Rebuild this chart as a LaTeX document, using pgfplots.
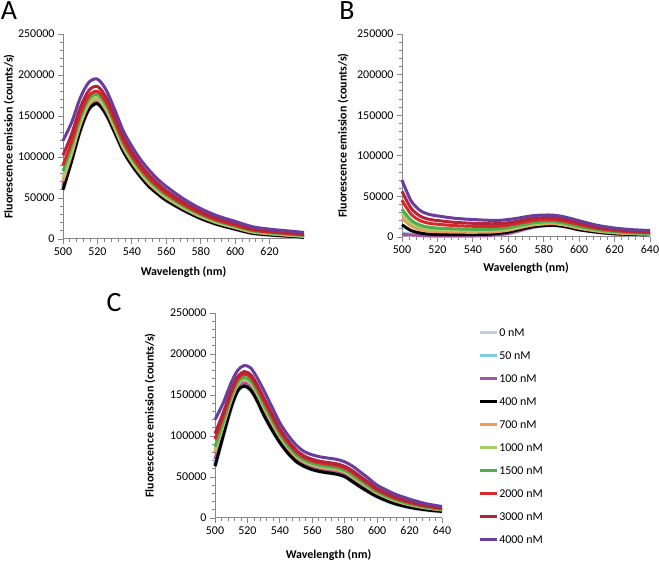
\documentclass[border=0pt]{standalone}
\usepackage{pgfplots}
\usepackage{pgfplotstable}
\usepackage{fontspec}
\setmainfont{Carlito}
\pgfplotsset{compat=1.18}

\definecolor{c0}{HTML}{C5CCE8}
\definecolor{c50}{HTML}{7FCCDD}
\definecolor{c100}{HTML}{A6539E}
\definecolor{c400}{HTML}{000000}
\definecolor{c700}{HTML}{F0995A}
\definecolor{c1000}{HTML}{A8CC68}
\definecolor{c1500}{HTML}{4FAE4F}
\definecolor{c2000}{HTML}{D42A2A}
\definecolor{c3000}{HTML}{B3233A}
\definecolor{c4000}{HTML}{6A3D9A}
\definecolor{axgray}{HTML}{878787}

\pgfplotstableread{
x c0 c50 c100 c400 c700 c1000 c1500 c2000 c3000 c4000
500 61800 63000 64800 60000 70800 75000 82800 90000 102000 120000
505 96400 97400 98800 95000 103500 106800 112900 118500 127900 142000
510 133200 134000 135200 132000 139200 142000 147200 152000 160000 172000
515 159000 159700 160600 158000 163900 166300 170500 174500 181100 191000
520 165900 166500 167400 165000 170400 172500 176400 180000 186000 195000
525 152900 153500 154400 152000 157400 159500 163400 167000 173000 182000
530 130800 131400 132200 130000 135000 137000 140600 144000 149600 158000
535 107800 108300 109000 107000 111500 113300 116500 119500 124500 132000
540 90700 91200 91800 90000 94100 95800 98700 101500 106100 113000
545 76600 77100 77700 76000 79800 81300 84000 86500 90700 97000
550 64600 65000 65600 64000 67600 69000 71600 74000 78000 84000
555 55500 55900 56400 55000 58200 59500 61800 64000 67600 73000
560 47500 47900 48400 47000 50100 51300 53500 55500 58900 64000
570 35400 35700 36100 35000 37500 38500 40300 42000 44800 49000
580 25400 25600 26000 25000 27200 28000 29600 31000 33400 37000
590 17800 18000 18300 17500 19400 20100 21500 22800 24900 28000
600 12300 12500 12800 12000 13700 14400 15600 16800 18700 21500
610 7200 7400 7600 7000 8400 9000 10000 11000 12600 15000
620 5200 5400 5600 5000 6300 6800 7700 8500 9900 12000
630 3700 3800 4000 3500 4700 5100 6000 6800 8100 10000
640 2200 2300 2500 2000 3100 3500 4300 5000 6200 8000
}\dataA

\pgfplotstableread{
x c0 c50 c100 c400 c700 c1000 c1500 c2000 c3000 c4000
500 3800 4100 3500 15000 23300 28800 34300 45300 56300 70000
505 2800 3100 2500 8000 13600 17300 21000 28400 35800 45000
510 2300 2600 2000 5000 9200 12000 14800 20400 26000 33000
515 1800 2100 1500 3500 7200 9600 12100 17000 21900 28000
520 1800 2100 1500 3000 6500 8800 11000 15700 20300 26000
530 1800 2100 1500 3000 6000 8000 10000 14000 18000 23000
540 1800 2100 1500 3000 5800 7600 9500 13200 16900 21500
550 2300 2600 2000 3500 6100 7800 9500 12900 16300 20500
555 3300 3600 3000 4500 6900 8500 10100 13300 16500 20500
560 4800 5100 4500 6000 8300 9900 11400 14500 17600 21500
565 7300 7600 7000 8500 10700 12100 13600 16500 19400 23000
570 10300 10600 10000 11000 13100 14500 15900 18700 21500 25000
575 12800 13100 12500 13000 15000 16400 17700 20400 23100 26500
580 14300 14600 14000 14000 16000 17300 18600 21200 23800 27000
585 14800 15100 14500 14500 16400 17600 18900 21400 23900 27000
590 13800 14100 13500 13500 15300 16500 17700 20100 22500 25500
595 11800 12100 11500 11500 13200 14400 15500 17800 20100 23000
600 9300 9600 9000 9000 10700 11800 12900 15100 17300 20000
610 6300 6600 6000 6000 7300 8100 9000 10700 12400 14500
620 4300 4600 4000 4000 5100 5800 6500 7900 9300 11000
630 3300 3600 3000 3000 3900 4500 5100 6300 7500 9000
640 2800 3100 2500 2500 3300 3900 4400 5500 6600 8000
}\dataB

\pgfplotstableread{
x c0 c50 c100 c400 c700 c1000 c1500 c2000 c3000 c4000
500 64100 65300 71600 63000 80100 83000 86900 96100 102900 120000
505 100800 101600 106000 100000 112000 114000 116800 123200 128000 140000
510 135600 136200 139500 135000 144000 145500 147600 152400 156000 165000
514 155500 156000 158800 155000 162500 163800 165500 169500 172500 180000
518 161500 162000 164800 161000 168500 169800 171500 175500 178500 186000
522 156500 157100 160100 156000 164100 165500 167300 171700 174900 183000
526 143600 144100 147200 143000 151400 152800 154800 159200 162600 171000
530 126600 127200 130500 126000 135000 136500 138600 143400 147000 156000
535 108600 109100 112200 108000 116400 117800 119800 124200 127600 136000
540 92500 93000 95600 92000 99200 100400 102100 105900 108800 116000
545 79400 79900 82300 79000 85600 86700 88200 91800 94400 101000
550 69400 69800 72000 69000 75000 76000 77400 80600 83000 89000
555 63400 63700 65700 63000 68400 69300 70600 73400 75600 81000
560 59400 59700 61700 59000 64400 65300 66600 69400 71600 77000
565 56900 57200 59200 56500 61900 62800 64100 66900 69100 74500
570 55400 55700 57700 55000 60400 61300 62600 65400 67600 73000
575 53900 54200 56200 53500 58900 59800 61100 63900 66100 71500
580 50900 51200 53200 50500 55900 56800 58100 60900 63100 68500
585 44400 44800 46900 44000 49700 50700 52000 55000 57300 63000
590 37900 38200 40200 37500 42900 43800 45100 47900 50100 55500
595 31800 32200 34000 31500 36500 37300 38400 41100 43100 48000
600 26300 26600 28100 26000 30200 30900 31900 34100 35800 40000
610 18200 18500 19800 18000 21600 22200 23000 25000 26400 30000
620 13200 13400 14500 13000 16000 16500 17200 18800 20000 23000
630 10200 10300 11100 10000 12300 12600 13200 14400 15300 17500
640 8100 8200 8900 8000 9800 10100 10500 11500 12200 14000
}\dataC

\pgfplotsset{
  panel/.style={
    scale only axis,
    xmin=500, xmax=640, ymin=0, ymax=250000,
    axis lines*=left,
    axis line style={axgray, line width=1bp},
    tick style={axgray, line width=0.8bp},
    tick align=outside,
    major tick length=5bp, minor tick length=3bp,
    ytick={0,50000,...,250000}, minor y tick num=4,
    xtick={500,520,...,640}, minor x tick num=4,
    scaled y ticks=false,
    /pgf/number format/.cd, fixed, 1000 sep={}, assume math mode=true, /pgfplots/.cd,
    tick label style={font=\fontsize{12}{14}\selectfont},
    label style={font=\bfseries\fontsize{12}{14}\selectfont},
    xlabel={Wavelength (nm)},
    ylabel={Fluorescence emission (counts/s)},
    clip=false,
    every axis plot/.append style={smooth, no markers, line width=3bp},
  },
}

\newcommand{\allplots}[1]{%
  \addplot[c0, line width=4.5bp] table[x=x, y=c0] {#1};
  \addplot[c50] table[x=x, y=c50] {#1};
  \addplot[c100] table[x=x, y=c100] {#1};
  \addplot[c400] table[x=x, y=c400] {#1};
  \addplot[c700] table[x=x, y=c700] {#1};
  \addplot[c1000] table[x=x, y=c1000] {#1};
  \addplot[c1500] table[x=x, y=c1500] {#1};
  \addplot[c2000] table[x=x, y=c2000] {#1};
  \addplot[c3000] table[x=x, y=c3000] {#1};
  \addplot[c4000] table[x=x, y=c4000] {#1};
}

\begin{document}
\begin{tikzpicture}[x=1bp, y=1bp]
\useasboundingbox (0,0) rectangle (659,561);

% Panel A
\begin{axis}[panel, at={(63bp,322bp)}, anchor=south west, width=241bp, height=205bp,
  xtick={500,520,...,620},
  ylabel style={at={(axis description cs:-0.224,0.5)}, anchor=center},
  xlabel style={at={(axis description cs:0.5,-0.161)}, anchor=center}]
\allplots{\dataA}
\end{axis}

% Panel B
\begin{axis}[panel, at={(402bp,324bp)}, anchor=south west, width=248bp, height=203bp,
  ylabel style={at={(axis description cs:-0.238,0.5)}, anchor=center},
  xlabel style={at={(axis description cs:0.5,-0.153)}, anchor=center}]
\allplots{\dataB}
\end{axis}

% Panel C
\begin{axis}[panel, at={(215bp,43bp)}, anchor=south west, width=227bp, height=205bp,
  ylabel style={at={(axis description cs:-0.286,0.5)}, anchor=center},
  xlabel style={at={(axis description cs:0.5,-0.181)}, anchor=center},
  legend cell align=left,
  legend image code/.code={\draw[#1, line width=3bp] (0bp,0bp) -- (17bp,0bp);},
  legend style={at={(axis description cs:1.159,0.926)}, anchor=north west,
    draw=none, fill=none, inner sep=0pt, row sep=15bp, column sep=1bp,
    font=\fontsize{12}{14}\selectfont,
    nodes={inner sep=0pt, text height=8bp, text depth=0bp}}]
\allplots{\dataC}
\legend{0 nM, 50 nM, 100 nM, 400 nM, 700 nM, 1000 nM, 1500 nM, 2000 nM, 3000 nM, 4000 nM}
\end{axis}

\node[font=\fontsize{28}{30}\selectfont, inner sep=0pt] at (9,550) {A};
\node[font=\fontsize{28}{30}\selectfont, inner sep=0pt] at (347,550) {B};
\node[font=\fontsize{28}{30}\selectfont, inner sep=0pt] at (114,258) {C};
\end{tikzpicture}
\end{document}
